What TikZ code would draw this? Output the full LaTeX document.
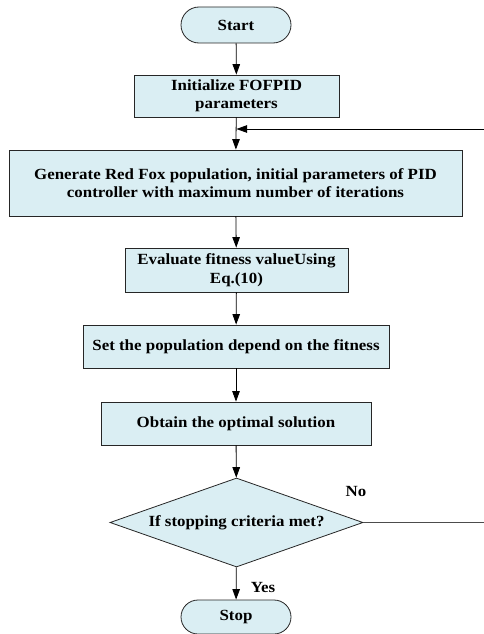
\documentclass[tikz,border=0pt]{standalone}
\usepackage{fontspec}
\setmainfont{Liberation Serif}[FakeStretch=1.09]
\usetikzlibrary{arrows.meta,shapes.geometric,shapes.misc}
\definecolor{boxfill}{HTML}{DAEEF3}
\tikzset{
  box/.style={draw=black!85, line width=0.8pt, fill=boxfill, inner sep=0pt, align=center, font=\bfseries\fontsize{15.5}{18.5}\selectfont},
  term/.style={box, rounded rectangle},
  decide/.style={box, diamond, aspect=2.84},
  arr/.style={line width=0.8pt, -{Triangle[length=10.5pt,width=7.5pt]}},
  lbl/.style={font=\bfseries\fontsize{15.5}{18.5}\selectfont}
}
\begin{document}
\begin{tikzpicture}[x=1pt,y=-1pt]
\useasboundingbox (0,0) rectangle (484,634);
\node[term, minimum width=110, minimum height=36] (start) at (236,25) {Start};
\node[box, minimum width=205, minimum height=42] (init) at (236.5,96) {Initialize FOFPID\\parameters};
\node[box, minimum width=453, minimum height=66] (gen) at (235.5,183) {Generate Red Fox population, initial parameters of PID\\controller with maximum number of iterations};
\node[box, minimum width=223, minimum height=44] (eval) at (236.5,270) {Evaluate fitness valueUsing\\Eq.(10)};
\node[box, minimum width=306, minimum height=43] (set) at (236,346.5) {Set the population depend on the fitness};
\node[box, minimum width=270, minimum height=43] (obt) at (236,423.5) {Obtain the optimal solution};
\node[decide, minimum width=253, minimum height=89] (dec) at (236.5,522.5) {If stopping criteria met?};
\node[term, minimum width=110, minimum height=34] (stop) at (236,617) {Stop};
\coordinate (join) at (236.5,129);
\coordinate (redge) at (484,129);
\coordinate (nedge) at (484,522.5);
\node[lbl] (no) at (356,491) {No};
\node[lbl] (yes) at (263,587) {Yes};
\draw[arr] (start) -- (init);
\draw[arr] (init) -- (gen);
\draw[arr] (redge) -- (join);
\draw[arr] (gen) -- (eval);
\draw[arr] (eval) -- (set);
\draw[arr] (set) -- (obt);
\draw[arr] (obt) -- (dec);
\draw[arr] (dec) -- (stop);
\draw[line width=0.8pt, black!70] (dec.east) -- (nedge);
\end{tikzpicture}
\end{document}
